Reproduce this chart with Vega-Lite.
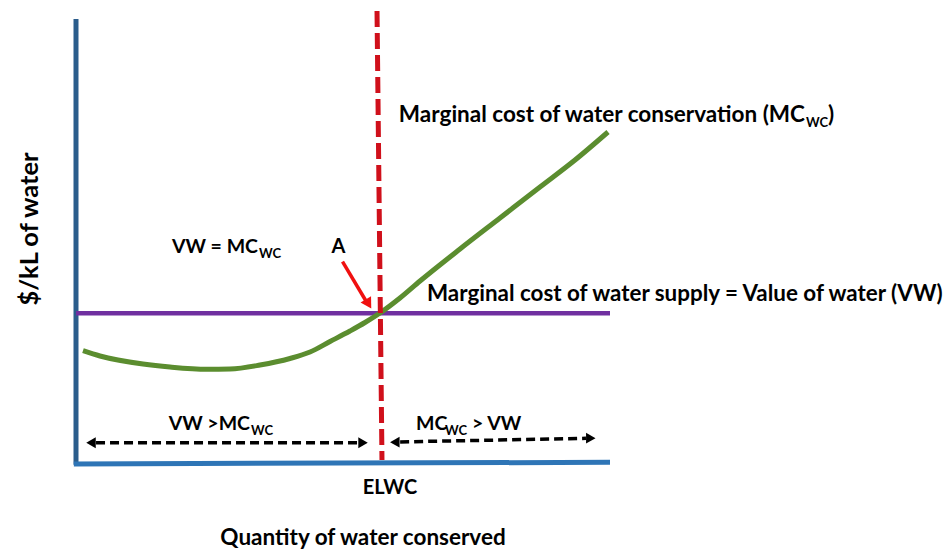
{
  "$schema": "https://vega.github.io/schema/vega-lite/v6.json",
  "width": 946,
  "height": 550,
  "autosize": {"type": "none"},
  "padding": 0,
  "background": "white",
  "config": {"view": {"stroke": null}, "text": {"font": "Lato", "fontWeight": "bold", "color": "black"}},
  "encoding": {
    "x": {"field": "q", "type": "quantitative", "scale": {"domain": [-14.232, 162.921], "nice": false, "zero": false}, "axis": null},
    "y": {"field": "p", "type": "quantitative", "scale": {"domain": [-19.595, 104.279], "nice": false, "zero": false}, "axis": null}
  },
  "layer": [
    {
      "data": {"values": [{"q": 0, "p": 100}, {"q": 0, "p": -0.4}]},
      "mark": {"type": "line", "color": "#2B5D8C", "strokeWidth": 5},
      "encoding": {}
    },
    {
      "data": {"values": [{"q": -0.4, "p": -0.2}, {"q": 100, "p": 0.15}]},
      "mark": {"type": "line", "color": "#2E75B6", "strokeWidth": 5},
      "encoding": {}
    },
    {
      "data": {"values": [{"q": 0, "p": 33.7}, {"q": 100, "p": 33.7}]},
      "mark": {"type": "line", "color": "#7030A0", "strokeWidth": 4.5},
      "encoding": {}
    },
    {
      "data": {"values": [
        {"q": 1.31, "p": 25.29}, {"q": 4.49, "p": 24.1}, {"q": 12.55, "p": 22.3}, {"q": 17.6, "p": 21.62},
        {"q": 24.53, "p": 21.1}, {"q": 28.84, "p": 21.17}, {"q": 34.46, "p": 22.07}, {"q": 40.07, "p": 23.54},
        {"q": 43.82, "p": 25.0}, {"q": 47.57, "p": 27.36}, {"q": 51.31, "p": 29.73}, {"q": 54.12, "p": 31.64},
        {"q": 56.93, "p": 33.78}, {"q": 60.67, "p": 37.16}, {"q": 64.42, "p": 40.99}, {"q": 71.91, "p": 48.2},
        {"q": 79.4, "p": 55.18}, {"q": 86.89, "p": 62.16}, {"q": 93.45, "p": 68.24}, {"q": 99.63, "p": 74.55}
      ]},
      "mark": {"type": "line", "color": "#5B8D2F", "strokeWidth": 5, "interpolate": "monotone"},
      "encoding": {}
    },
    {
      "data": {"values": [{"q": 56.37, "p": 101.8}, {"q": 57.3, "p": 0.68}]},
      "mark": {"type": "line", "color": "#D0101B", "strokeWidth": 5, "strokeDash": [16, 6]},
      "encoding": {}
    },
    {
      "data": {"values": [{"q": 49.91, "p": 45.34}, {"q": 54.31, "p": 36.49}]},
      "mark": {"type": "line", "color": "#F01010", "strokeWidth": 3.5},
      "encoding": {}
    },
    {
      "data": {"values": [{"q": 54.78, "p": 35.81}]},
      "mark": {"type": "point", "shape": "triangle-right", "filled": true, "opacity": 1, "color": "#F01010", "size": 150, "angle": 59},
      "encoding": {}
    },
    {
      "data": {"values": [
        {"seg": "left", "q": 3.75, "p": 4.57}, {"seg": "left", "q": 52.81, "p": 4.57},
        {"seg": "right", "q": 60.7, "p": 4.75}, {"seg": "right", "q": 95.5, "p": 5.55}
      ]},
      "mark": {"type": "line", "color": "black", "strokeWidth": 3.5, "strokeDash": [9, 5]},
      "encoding": {"detail": {"field": "seg"}}
    },
    {
      "data": {"values": [
        {"dir": "L", "q": 2.81, "p": 4.57}, {"dir": "R", "q": 53.75, "p": 4.57},
        {"dir": "L", "q": 59.7, "p": 4.7}, {"dir": "R", "q": 96.4, "p": 5.6}
      ]},
      "mark": {"type": "point", "filled": true, "opacity": 1, "color": "black", "size": 120},
      "encoding": {"shape": {"field": "dir", "type": "nominal", "scale": {"domain": ["L", "R"], "range": ["triangle-left", "triangle-right"]}, "legend": null}}
    },
    {
      "data": {"values": [
        {"q": 136.52, "p": 76.69, "label": "Marginal cost of water conservation (MC"}
      ]},
      "mark": {"type": "text", "fontSize": 22.5, "align": "right", "baseline": "alphabetic"},
      "encoding": {"text": {"field": "label"}}
    },
    {
      "data": {"values": [
        {"q": 140.82, "p": 76.69, "label": ")"},
        {"q": 65.73, "p": 36.53, "label": "Marginal cost of water supply = Value of water (VW)"}
      ]},
      "mark": {"type": "text", "fontSize": 22.4, "align": "left", "baseline": "alphabetic"},
      "encoding": {"text": {"field": "label"}}
    },
    {
      "data": {"values": [
        {"q": 34.08, "p": 47.23, "label": "VW = MC"},
        {"q": 32.58, "p": 7.44, "label": "VW >MC"}
      ]},
      "mark": {"type": "text", "fontSize": 19.5, "align": "right", "baseline": "alphabetic"},
      "encoding": {"text": {"field": "label"}}
    },
    {
      "data": {"values": [
        {"q": 63.67, "p": 7.44, "label": "MC"},
        {"q": 74.16, "p": 7.44, "label": "> VW"}
      ]},
      "mark": {"type": "text", "fontSize": 19.5, "align": "left", "baseline": "alphabetic"},
      "encoding": {"text": {"field": "label"}}
    },
    {
      "data": {"values": [
        {"q": 136.7, "p": 75.68, "label": "WC"},
        {"q": 34.27, "p": 46.17, "label": "WC"},
        {"q": 32.77, "p": 6.4, "label": "WC"},
        {"q": 69.1, "p": 6.4, "label": "WC"}
      ]},
      "mark": {"type": "text", "fontSize": 13, "align": "left", "baseline": "alphabetic"},
      "encoding": {"text": {"field": "label"}}
    },
    {
      "data": {"values": [
        {"q": 49.16, "p": 47.23, "label": "A"},
        {"q": 58.8, "p": -6.98, "label": "ELWC"}
      ]},
      "mark": {"type": "text", "fontSize": 20, "align": "center", "baseline": "alphabetic"},
      "encoding": {"text": {"field": "label"}}
    },
    {
      "data": {"values": [
        {"q": 53.75, "p": -18.4, "label": "Quantity of water conserved"}
      ]},
      "mark": {"type": "text", "fontSize": 22.5, "align": "center", "baseline": "alphabetic"},
      "encoding": {"text": {"field": "label"}}
    },
    {
      "data": {"values": [{"q": -8.61, "p": 52.7, "label": "$/kL of water"}]},
      "mark": {"type": "text", "fontSize": 25.5, "align": "center", "baseline": "middle", "angle": 270},
      "encoding": {"text": {"field": "label"}}
    }
  ]
}
